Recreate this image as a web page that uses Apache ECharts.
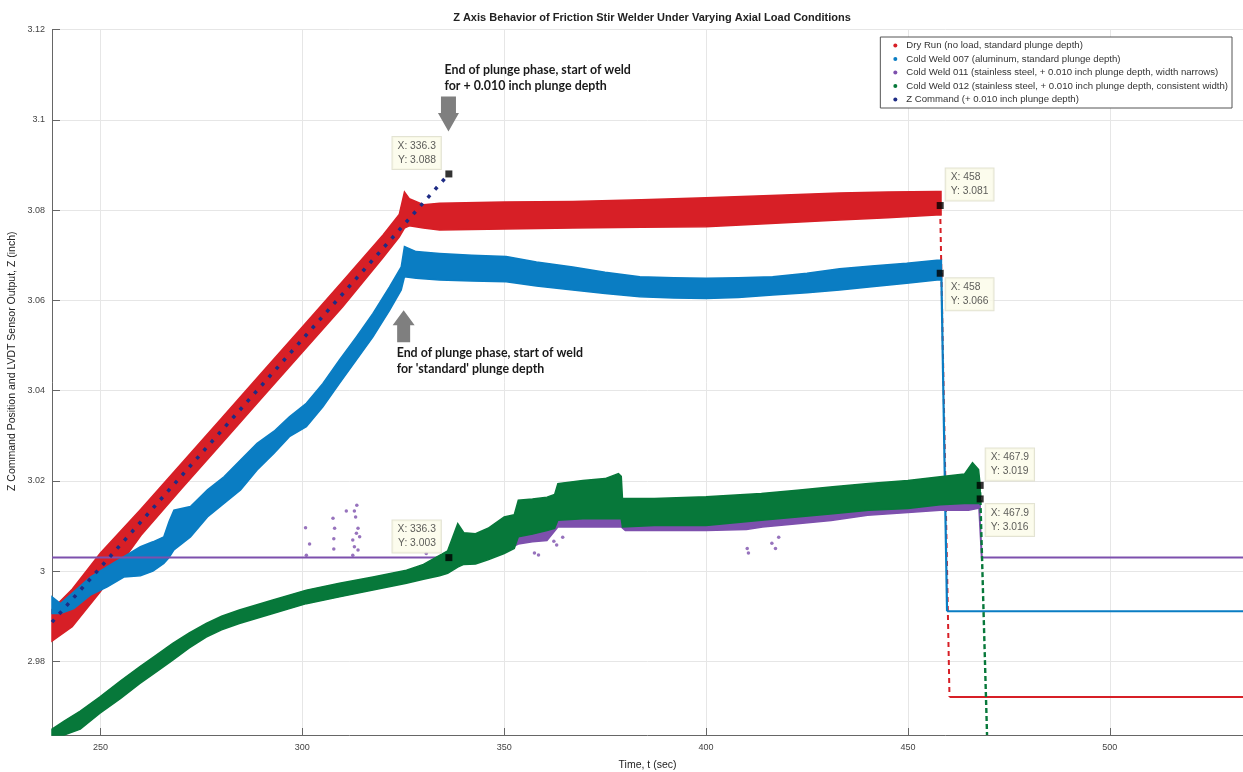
<!DOCTYPE html>
<html><head><meta charset="utf-8">
<script src="https://cdn.jsdelivr.net/npm/echarts@6/dist/echarts.min.js"></script>
<style>html,body{margin:0;padding:0;background:#fff}#c{width:1243px;height:772px}</style>
</head><body><div id="c"></div>
<script>
// ---------------- DATA ----------------
const seriesNames = [
  'Dry Run (no load, standard plunge depth)',
  'Cold Weld 007 (aluminum, standard plunge depth)',
  'Cold Weld 011 (stainless steel, + 0.010 inch plunge depth, width narrows)',
  'Cold Weld 012 (stainless steel, + 0.010 inch plunge depth, consistent width)',
  'Z Command (+ 0.010 inch plunge depth)'
];
// Dry Run band (time, lower edge, upper edge)
const dryT  = [238.0, 243.0, 250.0, 260.0, 270.0, 280.0, 290.0, 300.0, 310.0, 320.0, 324.0, 325.3, 326.5, 330.0, 334.0, 350.0, 367.0, 384.0, 400.0, 416.0, 433.0, 445.0, 457.0, 458.2];
const dryLo = [2.9845, 2.9877, 2.9955, 3.0079, 3.0182, 3.0283, 3.0384, 3.0485, 3.0586, 3.0695, 3.0740, 3.0760, 3.0765, 3.0760, 3.0756, 3.0758, 3.0760, 3.0762, 3.0763, 3.0770, 3.0778, 3.0783, 3.0789, 3.0789];
const dryHi = [2.9915, 2.9960, 3.0040, 3.0137, 3.0238, 3.0339, 3.0440, 3.0541, 3.0642, 3.0745, 3.0790, 3.0840, 3.0825, 3.0812, 3.0815, 3.0818, 3.0819, 3.0823, 3.0827, 3.0832, 3.0838, 3.0840, 3.0841, 3.0841];
const dryDropT = [458.0, 460.3];
const dryDropY = [3.0800, 2.9721];
const dryTailT = [460.3, 533.0];
const dryTailY = [2.9721, 2.9721];

// Cold Weld 007 band
const cw7T  = [238.0, 240.1, 243.4, 247.5, 251.7, 255.8, 259.9, 263.0, 265.7, 267.0, 268.2, 272.3, 276.5, 280.6, 284.7, 288.8, 293.0, 296.8, 301.0, 305.1, 309.2, 313.4, 317.5, 321.6, 324.5, 325.3, 328.2, 334.0, 342.0, 350.5, 358.0, 367.0, 375.0, 383.6, 392.0, 400.0, 408.0, 416.5, 425.0, 433.1, 441.0, 449.7, 457.2, 458.3];
const cw7Lo = [2.9906, 2.9906, 2.9917, 2.9947, 2.9965, 2.9987, 2.9990, 3.0000, 3.0017, 3.0030, 3.0047, 3.0076, 3.0120, 3.0150, 3.0180, 3.0224, 3.0261, 3.0298, 3.0320, 3.0364, 3.0416, 3.0468, 3.0519, 3.0578, 3.0623, 3.0652, 3.0649, 3.0645, 3.0643, 3.0641, 3.0632, 3.0623, 3.0615, 3.0608, 3.0605, 3.0604, 3.0606, 3.0612, 3.0617, 3.0623, 3.0630, 3.0638, 3.0645, 3.0645];
const cw7Hi = [2.9943, 2.9928, 2.9954, 2.9987, 3.0010, 3.0032, 3.0054, 3.0065, 3.0076, 3.0110, 3.0135, 3.0143, 3.0180, 3.0209, 3.0246, 3.0283, 3.0310, 3.0342, 3.0372, 3.0416, 3.0468, 3.0519, 3.0571, 3.0630, 3.0674, 3.0719, 3.0708, 3.0704, 3.0700, 3.0697, 3.0685, 3.0674, 3.0662, 3.0652, 3.0650, 3.0649, 3.0650, 3.0652, 3.0660, 3.0670, 3.0676, 3.0682, 3.0689, 3.0689];
const cw7DropT = [458.3, 459.7];
const cw7DropY = [3.0650, 2.9911];
const cw7TailT = [459.7, 533.0];
const cw7TailY = [2.9911, 2.9911];

// Cold Weld 011 (purple)
const cw11LineT = [238.0, 335.0];
const cw11LineY = [3.0030, 3.0030];
const cw11T  = [335.0, 342.0, 350.0, 353.5, 357.0, 360.6, 363.3, 370.0, 379.0, 380.0, 387.0, 400.0, 410.0, 414.0, 422.6, 431.0, 440.0, 450.0, 458.0, 465.0, 467.9];
const cw11Lo = [3.0025, 3.0030, 3.0045, 3.0060, 3.0065, 3.0068, 3.0098, 3.0098, 3.0098, 3.0090, 3.0090, 3.0090, 3.0092, 3.0098, 3.0105, 3.0112, 3.0124, 3.0130, 3.0135, 3.0135, 3.0140];
const cw11Hi = [3.0035, 3.0045, 3.0070, 3.0090, 3.0100, 3.0110, 3.0130, 3.0135, 3.0135, 3.0120, 3.0120, 3.0122, 3.0130, 3.0135, 3.0140, 3.0147, 3.0155, 3.0160, 3.0165, 3.0168, 3.0165];
const cw11TailT = [467.6, 468.3, 533.0];
const cw11TailY = [3.0150, 3.0030, 3.0030];
const cw11OutT = [300.8, 301.8, 301.0, 307.6, 308.0, 307.8, 307.8, 310.9, 312.9, 313.5, 313.2, 313.8, 313.4, 314.2, 312.5, 312.9, 313.8, 312.5, 330.7, 357.5, 358.5, 362.3, 363.0, 364.5, 410.2, 410.5, 416.3, 417.2, 418.0];
const cw11OutY = [3.0096, 3.0060, 3.0035, 3.0117, 3.0095, 3.0072, 3.0049, 3.0133, 3.0133, 3.0146, 3.0120, 3.0095, 3.0084, 3.0076, 3.0069, 3.0054, 3.0047, 3.0035, 3.0039, 3.0040, 3.0036, 3.0066, 3.0058, 3.0075, 3.0050, 3.0040, 3.0062, 3.0050, 3.0075];

// Cold Weld 012 (green)
const cw12T  = [238.0, 241.0, 245.0, 249.8, 255.0, 259.7, 264.0, 267.9, 272.0, 276.2, 280.0, 284.4, 292.7, 301.0, 309.2, 317.5, 325.8, 330.0, 334.0, 336.0, 338.5, 340.0, 342.9, 346.0, 350.0, 352.5, 353.5, 357.0, 360.6, 362.5, 363.3, 369.5, 375.0, 378.3, 379.0, 379.3, 387.2, 400.0, 413.7, 422.6, 431.4, 440.3, 450.0, 458.0, 464.0, 466.0, 467.5, 467.9];
const cw12Lo = [2.9620, 2.9630, 2.9650, 2.9685, 2.9718, 2.9751, 2.9778, 2.9803, 2.9830, 2.9854, 2.9870, 2.9884, 2.9906, 2.9928, 2.9943, 2.9958, 2.9973, 2.9982, 2.9990, 2.9995, 3.0009, 3.0015, 3.0016, 3.0025, 3.0039, 3.0050, 3.0076, 3.0082, 3.0090, 3.0095, 3.0113, 3.0116, 3.0116, 3.0116, 3.0116, 3.0098, 3.0101, 3.0101, 3.0113, 3.0120, 3.0127, 3.0135, 3.0139, 3.0147, 3.0150, 3.0150, 3.0150, 3.0155];
const cw12Hi = [2.9650, 2.9668, 2.9690, 2.9721, 2.9757, 2.9788, 2.9815, 2.9840, 2.9863, 2.9884, 2.9900, 2.9914, 2.9936, 2.9958, 2.9973, 2.9987, 3.0002, 3.0015, 3.0035, 3.0045, 3.0105, 3.0085, 3.0083, 3.0095, 3.0120, 3.0125, 3.0157, 3.0160, 3.0164, 3.0170, 3.0194, 3.0201, 3.0205, 3.0216, 3.0210, 3.0161, 3.0161, 3.0165, 3.0172, 3.0179, 3.0187, 3.0194, 3.0201, 3.0209, 3.0215, 3.0240, 3.0225, 3.0190];
const cw12DropT = [467.9, 469.6];
const cw12DropY = [3.0175, 2.9550];

// Z command
const zCmdT = [238.0, 336.3];
const zCmdY = [2.9887, 3.0880];

// Data tips
const tipT = [336.3, 458, 458, 336.3, 467.9, 467.9];
const tipY = [3.088, 3.081, 3.066, 3.003, 3.019, 3.016];

// Axes (ticks fall on multiples of 50 s and 0.02 inch)
const xMin = 238, xMax = 533, xSplit = 6;
const yMin = 2.9637, yMax = 3.12, ySplit = 8;

// ---------------- CHART ----------------
const colors = ['#d71f26', '#0a7dc3', '#7d50ad', '#07783a', '#1e2c85'];
const chart = echarts.init(document.getElementById('c'), null, {renderer: 'canvas'});

function makeBand(name, color, T, LO, HI, lines) {
  const data = T.length ? T.map((t, i) => [t, LO[i], HI[i]]) : [[xMin, yMin, yMin]];
  return {
    type: 'custom', name: name, itemStyle: {color: color}, silent: true, animation: false,
    data: data, encode: {x: 0, y: [1, 2]},
    renderItem: function (params, api) {
      if (params.dataIndex !== 0) return null;
      const cs = params.coordSys;
      const rect = {x: cs.x, y: cs.y, width: cs.width, height: cs.height};
      const children = [];
      if (T.length) {
        const pts = [];
        for (let i = 0; i < T.length; i++) pts.push(api.coord([T[i], HI[i]]));
        for (let i = T.length - 1; i >= 0; i--) pts.push(api.coord([T[i], LO[i]]));
        children.push({type: 'polygon', shape: {points: echarts.graphic.clipPointsByRect(pts, rect)},
          style: {fill: color, stroke: color, lineWidth: 1.5}});
      }
      (lines || []).forEach(l => {
        const p = l.t.map((t, i) => api.coord([t, l.y[i]]));
        children.push({type: 'polyline', shape: {points: echarts.graphic.clipPointsByRect(p, rect)},
          style: {stroke: color, lineWidth: l.w, lineDash: l.dash || null, fill: 'none'}});
      });
      return {type: 'group', children: children};
    }
  };
}

const tipPlace = ['ul', 'ur', 'lr', 'ul', 'ur', 'lr'];
const placeCfg = {
  ul: {position: [-4.5, -1.5], align: 'right', verticalAlign: 'bottom'},
  ur: {position: [9, -1.5], align: 'left', verticalAlign: 'bottom'},
  lr: {position: [9, 8.5], align: 'left', verticalAlign: 'top'}
};

const axisFont = {fontFamily: 'Liberation Sans', fontSize: 9, color: '#444'};
const option = {
  animation: false,
  backgroundColor: '#fff',
  title: {
    text: 'Z Axis Behavior of Friction Stir Welder Under Varying Axial Load Conditions',
    left: 647, top: 7, textAlign: 'center',
    textStyle: {fontFamily: 'Liberation Sans', fontSize: 11, fontWeight: 'bold', color: '#222'}
  },
  legend: {
    data: seriesNames.map((n, i) => ({name: n, icon: 'circle', itemStyle: {color: colors[i]}})),
    orient: 'vertical', right: 11, top: 37,
    itemWidth: 12, itemHeight: 4, itemGap: 2.5,
    padding: [3, 4, 3, 13],
    backgroundColor: '#fff', borderColor: '#555', borderWidth: 1,
    textStyle: {fontFamily: 'Liberation Sans', fontSize: 9.6, color: '#333', lineHeight: 11},
    selectedMode: false
  },
  grid: {left: 52, right: 0, top: 29.5, bottom: 37, outerBoundsMode: 'none', containLabel: false},
  xAxis: {
    type: 'value', min: xMin, max: xMax, splitNumber: xSplit,
    name: 'Time, t (sec)', nameLocation: 'middle', nameGap: 25, nameMoveOverlap: false,
    nameTextStyle: {fontFamily: 'Liberation Sans', fontSize: 10.5, color: '#222'},
    axisLine: {show: true, lineStyle: {color: '#666'}},
    axisTick: {show: true, inside: true, length: 7, lineStyle: {color: '#666'}},
    axisLabel: Object.assign({margin: 8, showMinLabel: false, showMaxLabel: false}, axisFont),
    splitLine: {show: true, lineStyle: {color: '#e6e6e6'}}
  },
  yAxis: {
    type: 'value', min: yMin, max: yMax, splitNumber: ySplit,
    name: 'Z Command Position and LVDT Sensor Output, Z (inch)', nameLocation: 'middle', nameGap: 34, nameRotate: 90,
    nameMoveOverlap: false,
    nameTextStyle: {fontFamily: 'Liberation Sans', fontSize: 10.5, color: '#222', padding: [0, 0, 0, 42]},
    axisLine: {show: true, lineStyle: {color: '#666'}},
    axisTick: {show: true, inside: true, length: 8, lineStyle: {color: '#666'}},
    axisLabel: Object.assign({margin: 7, showMinLabel: false,
      formatter: v => String(parseFloat(Number(v).toFixed(4)))}, axisFont),
    splitLine: {show: true, lineStyle: {color: '#e6e6e6'}}
  },
  series: [
    makeBand(seriesNames[0], colors[0], dryT, dryLo, dryHi, [
      {t: dryDropT, y: dryDropY, w: 2, dash: [5, 4]},
      {t: dryTailT, y: dryTailY, w: 2}
    ]),
    makeBand(seriesNames[1], colors[1], cw7T, cw7Lo, cw7Hi, [
      {t: cw7DropT, y: cw7DropY, w: 2.2},
      {t: cw7TailT, y: cw7TailY, w: 2}
    ]),
    makeBand(seriesNames[2], colors[2], cw11T, cw11Lo, cw11Hi, [
      {t: cw11LineT, y: cw11LineY, w: 2},
      {t: cw11TailT, y: cw11TailY, w: 2}
    ]),
    {
      type: 'scatter', name: seriesNames[2], silent: true, symbol: 'circle', symbolSize: 3.5,
      itemStyle: {color: colors[2]}, data: cw11OutT.map((t, i) => [t, cw11OutY[i]]), z: 2
    },
    makeBand(seriesNames[3], colors[3], cw12T, cw12Lo, cw12Hi, [
      {t: cw12DropT, y: cw12DropY, w: 2.4, dash: [5, 3]}
    ]),
    {
      type: 'line', name: seriesNames[4], silent: true, showSymbol: false, z: 3,
      itemStyle: {color: colors[4]},
      lineStyle: {color: colors[4], width: 3.5, type: [3.5, 7.4]},
      data: zCmdT.map((t, i) => [t, zCmdY[i]])
    },
    {
      type: 'scatter', name: 'tips', silent: true, symbol: 'rect', symbolSize: 7, z: 10,
      itemStyle: {color: '#000'},
      label: {
        show: true, fontFamily: 'Liberation Sans', fontSize: 10.3, lineHeight: 14, color: '#333',
        backgroundColor: '#fbfbe9', borderColor: '#dcdcc8', borderWidth: 1, padding: [2, 5, 2, 5],
        formatter: p => 'X: ' + p.value[0] + '\nY: ' + p.value[1].toFixed(3)
      },
      data: tipT.map((t, i) => ({value: [t, tipY[i]], label: placeCfg[tipPlace[i]]}))
    }
  ]
};
chart.setOption(option);

// ---------------- ANNOTATIONS (anchored to data coordinates) ----------------
const annDown = {t: 336.2, y: 3.0974, lines: ['End of plunge phase, start of weld', 'for + 0.010 inch plunge depth']};
const annUp = {t: 325.1, y: 3.0578, lines: ['End of plunge phase, start of weld', "for 'standard' plunge depth"]};
const pd = chart.convertToPixel({gridIndex: 0}, [annDown.t, annDown.y]);
const pu = chart.convertToPixel({gridIndex: 0}, [annUp.t, annUp.y]);
const gray = '#7f7f7f';
const annFont = {fontFamily: 'Lato', fontWeight: 'bold', fontSize: 12.4, fill: '#1a1a1a', lineHeight: 16};
chart.setOption({
  graphic: [
    {type: 'polygon', silent: true, z: 20, shape: {points: [
      [pd[0] - 10.5, pd[1] - 18.5], [pd[0] - 7.5, pd[1] - 18.5], [pd[0] - 7.5, pd[1] - 35],
      [pd[0] + 7.5, pd[1] - 35], [pd[0] + 7.5, pd[1] - 18.5], [pd[0] + 10.5, pd[1] - 18.5], [pd[0], pd[1]]]},
      style: {fill: gray}},
    {type: 'text', silent: true, z: 20, x: pd[0] - 4, y: pd[1] - 70,
      style: Object.assign({text: annDown.lines.join('\n'), align: 'left', verticalAlign: 'top'}, annFont)},
    {type: 'polygon', silent: true, z: 20, shape: {points: [
      [pu[0], pu[1]], [pu[0] + 11, pu[1] + 15], [pu[0] + 6.5, pu[1] + 15], [pu[0] + 6.5, pu[1] + 32],
      [pu[0] - 6.5, pu[1] + 32], [pu[0] - 6.5, pu[1] + 15], [pu[0] - 11, pu[1] + 15]]},
      style: {fill: gray}},
    {type: 'text', silent: true, z: 20, x: pu[0] - 7, y: pu[1] + 35,
      style: Object.assign({text: annUp.lines.join('\n'), align: 'left', verticalAlign: 'top'}, annFont)}
  ]
});
</script>
</body></html>
